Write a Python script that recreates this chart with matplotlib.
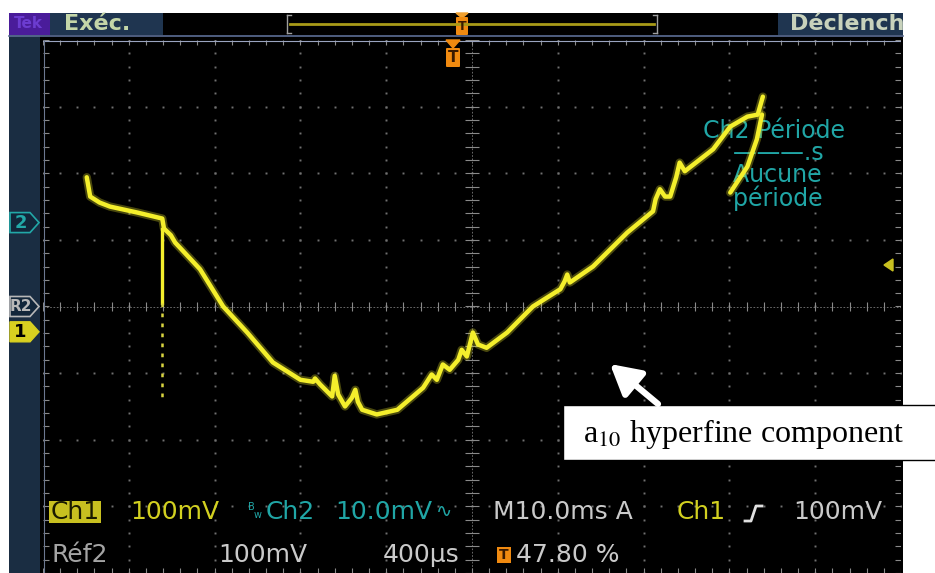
import matplotlib.pyplot as plt
import matplotlib.patches as patches
import numpy as np

plt.rcParams['font.family'] = ['DejaVu Sans']
plt.rcParams['mathtext.fontset'] = 'stix'

# Ch1 trace, in divisions (x: -5..5, y: -4..4)
trace_x = [-4.49, -4.45, -4.34, -4.22, -3.90, -3.61, -3.59, -3.51, -3.46, -3.17,
           -2.90, -2.62, -2.32, -2.00, -1.85, -1.83, -1.77, -1.63, -1.60, -1.56,
           -1.48, -1.40, -1.36, -1.33, -1.28, -1.11, -0.87, -0.57, -0.47, -0.41,
           -0.34, -0.26, -0.16, -0.12, -0.06, 0.01, 0.07, 0.17, 0.41, 0.64,
           0.71, 1.03, 1.08, 1.11, 1.14, 1.41, 1.81, 2.11, 2.14, 2.19,
           2.25, 2.31, 2.38, 2.42, 2.48, 2.54, 2.81, 3.01, 3.21, 3.33, 3.39]
trace_y = [1.94, 1.65, 1.56, 1.50, 1.41, 1.32, 1.17, 1.07, 0.96, 0.56,
           0.00, -0.39, -0.84, -1.10, -1.13, -1.08, -1.17, -1.35, -1.04, -1.32,
           -1.50, -1.37, -1.25, -1.43, -1.55, -1.62, -1.55, -1.22, -1.02, -1.10,
           -0.87, -0.95, -0.80, -0.65, -0.75, -0.39, -0.57, -0.62, -0.39, -0.09,
           0.00, 0.26, 0.38, 0.48, 0.36, 0.60, 1.11, 1.43, 1.61, 1.76,
           1.65, 1.65, 1.94, 2.16, 2.03, 2.09, 2.36, 2.70, 2.85, 2.88, 3.15]
# fly-back branch at the right end
retrace_x = [3.38, 3.32, 3.21, 3.01]
retrace_y = [2.88, 2.51, 2.10, 1.71]
# vertical glitch at the step
spike_x = [-3.61, -3.61]
spike_solid_y = [1.17, 0.05]
spike_dash_y = [0.05, -1.43]

# channel markers on the left edge
marker_labels = ['2', 'R2', '1']
marker_levels = [1.26, 0.0, -0.38]
marker_colors = ['#22a8a8', '#b8b8b8', '#d8d020']

# measurement box
meas_lines = ['Ch2 Période', '    ———.s', '    Aucune', '    période']

W, H = 935, 573
fig = plt.figure(figsize=(W / 100, H / 100), dpi=100)
fig.patch.set_facecolor('white')

# background (pixel coordinates)
bg = fig.add_axes([0, 0, 1, 1])
bg.set_xlim(0, W)
bg.set_ylim(H, 0)
bg.axis('off')
bg.set_zorder(0)

bg.add_patch(patches.Rectangle((9, 13), 894, 560, fc='black', ec='none'))
bg.add_patch(patches.Rectangle((9, 35), 31, 538, fc='#1a2d42', ec='none'))
bg.add_patch(patches.Rectangle((9, 13), 41, 22, fc='#4a1c9a', ec='none'))
bg.add_patch(patches.Rectangle((50, 13), 113, 22, fc='#1f3550', ec='none'))
dec_bg = patches.Rectangle((778, 13), 125, 22, fc='#1f3550', ec='none')
bg.add_patch(dec_bg)
bg.plot([9, 903], [35.5, 35.5], color='#5c6e96', lw=1.2)

bg.text(14, 24, 'Tek', color='#6c3cd0', fontsize=11, fontweight='bold', va='center')
bg.text(64, 24, 'Exéc.', color='#c4d6a8', fontsize=16, fontweight='bold', va='center')
t = bg.text(790, 24, 'Déclench', color='#c8d2bc', fontsize=16, fontweight='bold',
            va='center')
t.set_clip_path(dec_bg)

# trigger position bar
for bx, d in [(287, 1), (657, -1)]:
    bg.plot([bx, bx], [15, 33], color='#a0a0a0', lw=1)
    bg.plot([bx, bx + 4 * d], [15, 15], color='#a0a0a0', lw=1)
    bg.plot([bx, bx + 4 * d], [33, 33], color='#a0a0a0', lw=1)
bg.plot([290, 654], [24, 24], color='#a89a18', lw=2)
bg.add_patch(patches.Polygon([(456, 13), (468, 13), (462, 18)], color='#f0a030'))
bg.add_patch(patches.FancyBboxPatch((457, 18), 10, 16, boxstyle='round,pad=1',
                                    fc='#f08a10', ec='none'))
bg.text(462, 27, 'T', color='#3a1a00', fontsize=9, fontweight='bold',
        ha='center', va='center')

# graticule + trace (divisions)
g = fig.add_axes([43 / W, 0, 858 / W, 533 / H])
g.set_xlim(-5, 5)
g.set_ylim(-4, 4)
g.axis('off')
g.set_zorder(1)

dot = '#707070'
xs_f = np.arange(-5, 5.001, 0.2)
ys_f = np.arange(-4, 4.001, 0.2)
for xi in [-4, -3, -2, -1, 1, 2, 3, 4]:
    g.plot([xi] * len(ys_f), ys_f, ls='none', marker='s', ms=1.4, mew=0, color=dot)
for yi in [-3, -2, -1, 1, 2, 3]:
    g.plot(xs_f, [yi] * len(xs_f), ls='none', marker='s', ms=1.4, mew=0, color=dot)
g.plot([-5, 5], [0, 0], color='#7a7a7a', lw=0.6, ls=(0, (2, 2)))
g.plot([0, 0], [-4, 4], color='#7a7a7a', lw=0.6, ls=(0, (2, 2)))
g.vlines(xs_f, -0.07, 0.07, color='#8a8a8a', lw=0.8)
g.hlines(ys_f, -0.08, 0.08, color='#8a8a8a', lw=0.8)
g.vlines(xs_f, 3.92, 4, color='#8a8a8a', lw=0.8)
g.vlines(xs_f, -4, -3.93, color='#8a8a8a', lw=0.8)
g.hlines(ys_f, -5, -4.93, color='#8a8a8a', lw=0.8)
g.hlines(ys_f, 4.93, 5, color='#8a8a8a', lw=0.8)
g.plot([-5, 5], [3.985, 3.985], color='#9aa4c0', lw=0.8)
g.plot([-4.985, -4.985], [-4, 4], color='#6c7890', lw=0.8)

g.text(703, 119, '\n'.join(meas_lines), color='#20a6a6', fontsize=17,
       va='top', ha='left', linespacing=0.9, transform=bg.transData, zorder=3)

yel = '#f4ef2c'
for xs, ys in [(trace_x, trace_y), (retrace_x, retrace_y)]:
    g.plot(xs, ys, color=yel, lw=6, alpha=0.3, zorder=4, solid_capstyle='round',
           solid_joinstyle='round')
    g.plot(xs, ys, color=yel, lw=3.2, zorder=5, solid_joinstyle='round',
           solid_capstyle='round')
g.plot(spike_x, spike_solid_y, color=yel, lw=2.4, zorder=5)
g.plot(spike_x, spike_dash_y, color='#d8d440', lw=1.8, ls=(0, (1.5, 2.5)), zorder=5)

# overlay (pixel coordinates)
ov = fig.add_axes([0, 0, 1, 1])
ov.set_xlim(0, W)
ov.set_ylim(H, 0)
ov.axis('off')
ov.set_facecolor('none')
ov.set_zorder(2)

for lab, lev, col in zip(marker_labels, marker_levels, marker_colors):
    py = 306.5 - lev * 66.6
    pts = [(10, py - 10), (30, py - 10), (39, py), (30, py + 10), (10, py + 10)]
    if lab == '1':
        ov.add_patch(patches.Polygon(pts, fc=col, ec=col, lw=1))
        ov.text(20, py, lab, color='black', fontsize=13, fontweight='bold',
                ha='center', va='center')
    else:
        ov.add_patch(patches.Polygon(pts, fc='#12263a', ec=col, lw=1.2))
        ov.text(21, py, lab, color=col, fontsize=13 if lab == '2' else 11,
                fontweight='bold', ha='center', va='center')

# trigger markers on the screen
ov.add_patch(patches.Polygon([(446, 40), (460, 40), (453, 48)], color='#f08a10'))
ov.add_patch(patches.FancyBboxPatch((447, 49), 12, 17, boxstyle='round,pad=1',
                                    fc='#f08a10', ec='none'))
ov.text(453, 58, 'T', color='#3a1a00', fontsize=11, fontweight='bold',
        ha='center', va='center')
ov.add_patch(patches.Polygon([(893, 259), (893, 271), (884, 265)], color='#c8c020'))

# readouts
fs = 18
r1, r2 = 512, 555
ov.add_patch(patches.Rectangle((49, 501), 52, 22, fc='#c8c020', ec='none'))
ov.text(51, r1, 'Ch1', color='#1a1a00', fontsize=fs, va='center')
ov.text(130, r1, '100mV', color='#d2d020', fontsize=fs, va='center')
ov.text(248, r1 - 5, 'B', color='#20a6a6', fontsize=7, va='center')
ov.text(254, r1 + 3, 'w', color='#20a6a6', fontsize=7, va='center')
ov.text(266, r1, 'Ch2', color='#20a6a6', fontsize=fs, va='center')
ov.text(335, r1, '10.0mV', color='#20a6a6', fontsize=fs, va='center')
ov.text(436, r1, '∿', color='#20a6a6', fontsize=14, va='center')
ov.text(493, r1, 'M10.0ms A', color='#cacaca', fontsize=fs, va='center')
ov.text(677, r1, 'Ch1', color='#d2d020', fontsize=fs, va='center')
ov.plot([745, 751, 756, 762], [521, 521, 506, 506], color='#e0e0e0', lw=2)
ov.text(793, r1, '100mV', color='#cacaca', fontsize=fs, va='center')

ov.text(52, r2, 'Réf2', color='#a4a4a4', fontsize=fs, va='center')
ov.text(218, r2, '100mV', color='#cacaca', fontsize=fs, va='center')
ov.text(383, r2, '400µs', color='#cacaca', fontsize=fs, va='center')
ov.add_patch(patches.Rectangle((497, 547), 14, 16, fc='#f08a10', ec='none'))
ov.text(504, r2, 'T', color='#3a1a00', fontsize=10, fontweight='bold',
        ha='center', va='center')
ov.text(516, r2, '47.80 %', color='#cacaca', fontsize=fs, va='center')

# annotation
ov.add_patch(patches.Rectangle((563, 405), 380, 55, fc='white', ec='black', lw=1))
ov.text(583, 434, r'a$_{10}$ hyperfine component', family='Liberation Serif',
        fontsize=23, color='black', va='center')
ov.annotate('', xy=(610, 364), xytext=(658, 404),
            arrowprops=dict(arrowstyle='-|>,head_length=0.9,head_width=0.5',
                            lw=4.5, color='white', mutation_scale=20,
                            shrinkA=0, shrinkB=0))

fig.savefig('out.png', dpi=100, facecolor='white')
